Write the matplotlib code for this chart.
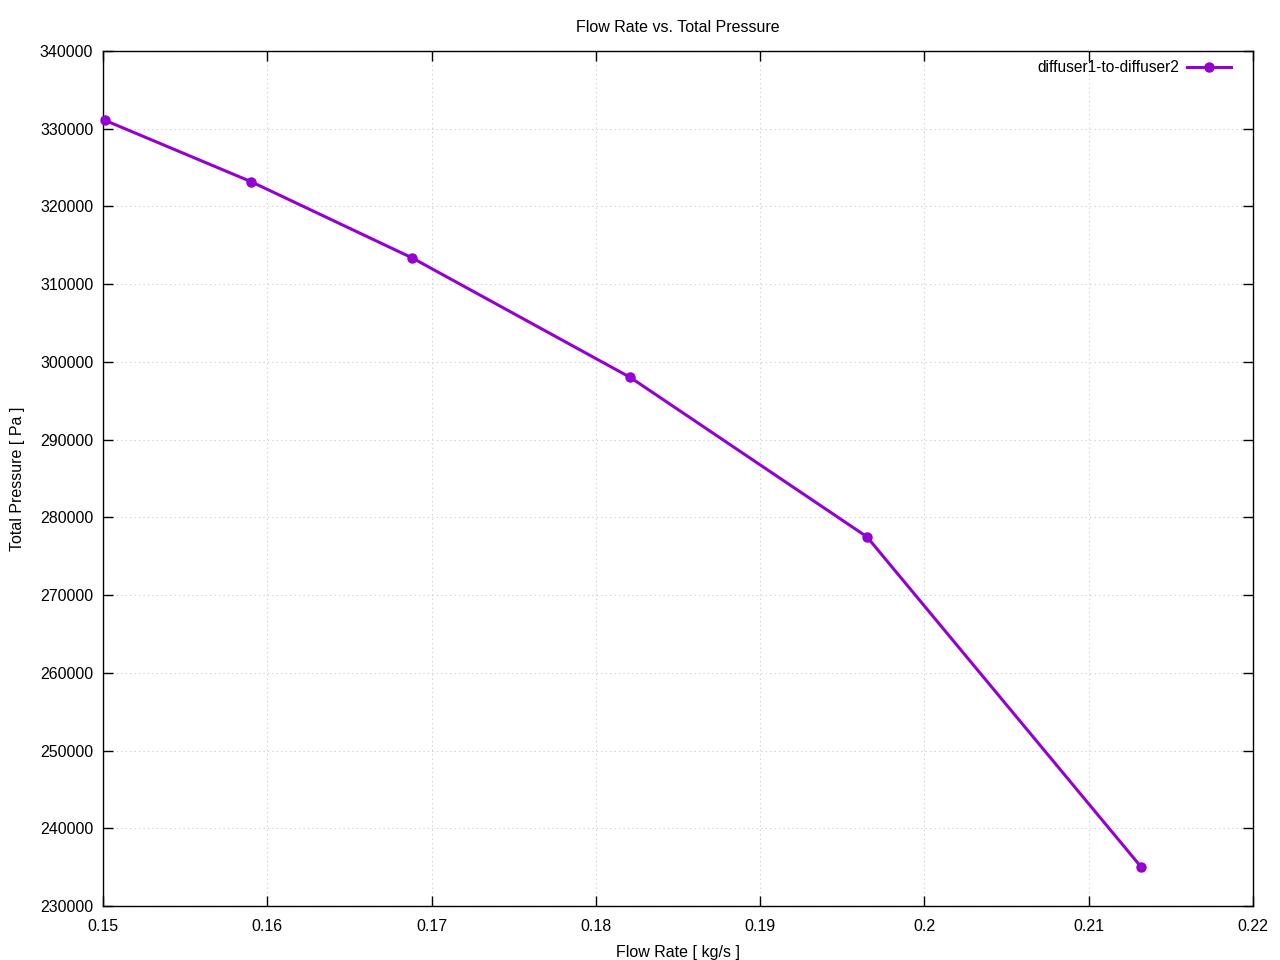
import matplotlib
matplotlib.use("Agg")
import matplotlib.pyplot as plt

# flow rate [kg/s] vs total pressure [Pa]
flow_rate = [0.1501, 0.1590, 0.1688, 0.1821, 0.1965, 0.2132]
total_pressure = [331100, 323200, 313400, 298000, 277500, 235000]
series_name = "diffuser1-to-diffuser2"

plt.rcParams["font.family"] = ["Liberation Sans", "DejaVu Sans"]

fig = plt.figure(figsize=(12.8, 9.6), dpi=100)
ax = fig.add_axes([103 / 1280, 1 - 906 / 960, 1150 / 1280, 855 / 960])

ax.plot(flow_rate, total_pressure, color="#9400d3", lw=2.2, marker="o",
        markersize=6.5, label=series_name, clip_on=False, zorder=3)

ax.set_xlim(0.15, 0.22)
ax.set_ylim(230000, 340000)
ax.set_xticks([0.15, 0.16, 0.17, 0.18, 0.19, 0.2, 0.21, 0.22])
ax.set_xticklabels(["0.15", "0.16", "0.17", "0.18", "0.19", "0.2", "0.21", "0.22"])
ax.set_yticks(range(230000, 340001, 10000))
ax.set_yticklabels([str(v) for v in range(230000, 340001, 10000)])

ax.grid(True, color="#c8c8c8", linestyle=(0, (1, 3)), lw=0.8)
ax.tick_params(direction="in", length=7, width=1, labelsize=11.5,
               top=True, right=True)
ax.tick_params(axis="x", pad=9.5)
ax.tick_params(axis="y", pad=7)
for s in ax.spines.values():
    s.set_linewidth(1)

ax.set_title("Flow Rate vs. Total Pressure", fontsize=11.5, pad=14)
ax.set_xlabel("Flow Rate [ kg/s ]", fontsize=11.5, labelpad=8)
ax.set_ylabel("Total Pressure [ Pa ]", fontsize=11.5, labelpad=11)

leg = ax.legend(loc="upper right", frameon=False, fontsize=11.2,
                markerfirst=False, handlelength=2.8, handletextpad=0.5,
                borderaxespad=0.2, bbox_to_anchor=(1 - 13 / 1150, 1))

fig.savefig("out.png", dpi=100)
